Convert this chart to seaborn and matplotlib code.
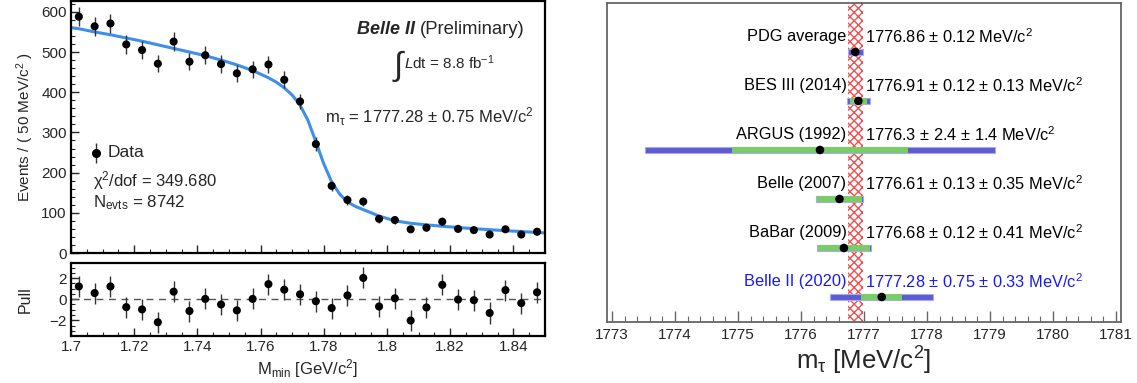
import numpy as np
import matplotlib
matplotlib.use("Agg")
import matplotlib.pyplot as plt
from matplotlib.ticker import MultipleLocator
import seaborn as sns

# ---- left: M_min fit ----
bin_centers = [1.7025, 1.7075, 1.7125, 1.7175, 1.7225, 1.7275, 1.7325, 1.7375, 1.7425, 1.7475,
               1.7525, 1.7575, 1.7625, 1.7675, 1.7725, 1.7775, 1.7825, 1.7875, 1.7925, 1.7975,
               1.8025, 1.8075, 1.8125, 1.8175, 1.8225, 1.8275, 1.8325, 1.8375, 1.8425, 1.8475]
counts = [588, 564, 571, 519, 505, 471, 526, 476, 492, 470,
          447, 457, 469, 431, 377, 271, 167, 132, 128, 85,
          82, 59, 63, 78, 60, 57, 46, 59, 46, 53]
pulls = [1.22, 0.59, 1.22, -0.75, -0.97, -2.19, 0.72, -1.12, 0.03, -0.50,
         -1.06, 0.03, 1.44, 0.91, 0.47, -0.19, -0.84, 0.37, 2.03, -0.69,
         0.09, -2.03, -0.78, 1.37, -0.03, -0.09, -1.31, 0.87, -0.37, 0.66]

fit_x = [1.7000, 1.7025, 1.7075, 1.7125, 1.7175, 1.7225, 1.7275, 1.7325, 1.7375, 1.7425,
         1.7475, 1.7525, 1.7575, 1.7625, 1.7650, 1.7675, 1.7700, 1.7725, 1.7750, 1.7775,
         1.7800, 1.7825, 1.7850, 1.7875, 1.7900, 1.7925, 1.7975, 1.8025, 1.8075, 1.8125,
         1.8175, 1.8225, 1.8275, 1.8325, 1.8375, 1.8425, 1.8475, 1.8500]
fit_y = [561, 558, 550, 543, 535, 527, 518, 509, 500, 491,
         480, 468, 454, 436, 425, 411, 393, 368, 330, 277,
         222, 177, 147, 127, 116, 108, 92, 80, 74, 70,
         66.5, 63.5, 60.5, 58, 55.5, 53.5, 51, 50]

# ---- right: tau mass comparison ----
experiments = ["PDG average", "BES III (2014)", "ARGUS (1992)", "Belle (2007)",
               "BaBar (2009)", "Belle II (2020)"]
mass = [1776.86, 1776.91, 1776.3, 1776.61, 1776.68, 1777.28]
stat_err = [0.12, 0.12, 2.4, 0.13, 0.12, 0.75]
syst_err = [0.0, 0.13, 1.4, 0.35, 0.41, 0.33]
value_labels = ["1776.86 ± 0.12 MeV/c$^2$",
                "1776.91 ± 0.12 ± 0.13 MeV/c$^2$",
                "1776.3 ± 2.4 ± 1.4 MeV/c$^2$",
                "1776.61 ± 0.13 ± 0.35 MeV/c$^2$",
                "1776.68 ± 0.12 ± 0.41 MeV/c$^2$",
                "1777.28 ± 0.75 ± 0.33 MeV/c$^2$"]
pdg_mass = 1776.86
pdg_err = 0.12

sns.set_theme(style="ticks")
plt.rcParams["font.family"] = ["Liberation Sans", "DejaVu Sans"]
plt.rcParams["mathtext.fontset"] = "custom"
plt.rcParams["mathtext.rm"] = "Liberation Sans"
plt.rcParams["mathtext.it"] = "Liberation Sans:italic"
plt.rcParams["mathtext.bf"] = "Liberation Sans:bold"

fig = plt.figure(figsize=(11.37, 3.83), dpi=100)
ax_main = fig.add_axes([0.0624, 0.3394, 0.4169, 0.658])
ax_pull = fig.add_axes([0.0624, 0.1227, 0.4169, 0.1906])
ax_r = fig.add_axes([0.5339, 0.1593, 0.4521, 0.833])

# main fit panel
fit_color = "#3d8fe8"
sns.lineplot(x=fit_x, y=fit_y, ax=ax_main, color=fit_color, linewidth=2.2, zorder=2)
ax_main.errorbar(bin_centers, counts, yerr=np.sqrt(counts), fmt="none",
                 ecolor="#333333", elinewidth=1.0, zorder=3)
sns.scatterplot(x=bin_centers, y=counts, ax=ax_main, color="black", s=34,
                edgecolor="none", zorder=4)
ax_main.set_xlim(1.7, 1.85)
ax_main.set_ylim(0, 627)
ax_main.set_xticklabels([])
ax_main.set_ylabel("Events / ( 50 MeV/c$^2$ )", fontsize=11)

ax_main.text(0.726, 0.885, "Belle II", transform=ax_main.transAxes, ha="right",
             va="center", fontsize=13, fontweight="bold", style="italic")
ax_main.text(0.736, 0.885, "(Preliminary)", transform=ax_main.transAxes, ha="left",
             va="center", fontsize=13.3)
ax_main.text(0.69, 0.742, "∫", transform=ax_main.transAxes, ha="center",
             va="center", fontsize=24, fontweight="light")
ax_main.text(0.703, 0.754, "$L$dt = 8.8 fb$^{-1}$", transform=ax_main.transAxes,
             ha="left", va="center", fontsize=11)
ax_main.text(0.536, 0.54, r"m$_{\mathrm{\tau}}$ = 1777.28 ± 0.75 MeV/c$^2$",
             transform=ax_main.transAxes, ha="left", va="center", fontsize=12)

# legend-like entries
ax_main.errorbar([0.053], [0.397], yerr=[0.04], fmt="o", color="black", ms=5.5,
                 ecolor="#333333", elinewidth=1.0, transform=ax_main.transAxes)
ax_main.text(0.078, 0.397, "Data", transform=ax_main.transAxes, ha="left",
             va="center", fontsize=12.5)
ax_main.text(0.047, 0.288, "χ$^2$/dof = 349.680", transform=ax_main.transAxes,
             ha="left", va="center", fontsize=12)
ax_main.text(0.047, 0.198, r"N$_{\mathrm{evts}}$ = 8742", transform=ax_main.transAxes,
             ha="left", va="center", fontsize=12.2)

# pull panel
ax_pull.axhline(0, color="#555555", linestyle=(0, (5, 4)), linewidth=1.0, zorder=1)
ax_pull.errorbar(bin_centers, pulls, yerr=1.0, fmt="none", ecolor="#333333",
                 elinewidth=1.0, zorder=3)
sns.scatterplot(x=bin_centers, y=pulls, ax=ax_pull, color="black", s=34,
                edgecolor="none", zorder=4)
ax_pull.set_xlim(1.7, 1.85)
ax_pull.set_ylim(-3.5, 3.45)
ax_pull.set_yticks([-2, 0, 2])
ax_pull.set_xticks([1.70, 1.72, 1.74, 1.76, 1.78, 1.80, 1.82, 1.84])
ax_pull.set_xticklabels(["1.7", "1.72", "1.74", "1.76", "1.78", "1.8", "1.82", "1.84"])
ax_pull.set_ylabel("Pull", fontsize=11.5, labelpad=12)
ax_pull.set_xlabel("M$_{\\mathrm{min}}$ [GeV/c$^2$]", fontsize=12, labelpad=2)

ax_main.xaxis.set_major_locator(MultipleLocator(0.02))
for ax in (ax_main, ax_pull):
    ax.xaxis.set_minor_locator(MultipleLocator(0.005))
    ax.tick_params(which="both", direction="in", labelsize=11, pad=3)
    ax.tick_params(which="major", length=6, width=1.0)
    ax.tick_params(which="minor", length=3, width=0.8)
    for s in ax.spines.values():
        s.set_linewidth(1.6)
        s.set_color("black")
ax_main.yaxis.set_minor_locator(MultipleLocator(20))
ax_pull.yaxis.set_minor_locator(MultipleLocator(0.5))

# right comparison panel
rows = np.arange(len(experiments))
total_err = np.sqrt(np.array(stat_err) ** 2 + np.array(syst_err) ** 2)
mass_arr = np.array(mass)
blue = "#5b5bd3"
green = "#7acd66"
ax_r.axvspan(pdg_mass - pdg_err, pdg_mass + pdg_err, facecolor="white",
             edgecolor="#f05050", hatch="xxxx", linewidth=0.0, zorder=1)
ax_r.barh(rows, 2 * total_err, left=mass_arr - total_err, height=0.13,
          color=blue, edgecolor="#a9a9ee", linewidth=0.8, zorder=2)
has_syst = np.array(syst_err) > 0
ax_r.barh(rows[has_syst], 2 * np.array(syst_err)[has_syst],
          left=mass_arr[has_syst] - np.array(syst_err)[has_syst], height=0.13,
          color=green, edgecolor="none", zorder=3)
sns.scatterplot(x=mass, y=rows, ax=ax_r, color="black", s=38, edgecolor="none",
                zorder=4)
for i, (name, val) in enumerate(zip(experiments, value_labels)):
    c = "#1a1aee" if name.startswith("Belle II") else "black"
    ax_r.text(1776.72, i - 0.31, name, ha="right", va="center", fontsize=11.8, color=c)
    ax_r.text(1777.02, i - 0.31, val, ha="left", va="center", fontsize=11.8, color=c)

ax_r.set_xlim(1772.92, 1781.08)
ax_r.set_ylim(5.51, -1.0)
ax_r.set_yticks([])
ax_r.set_xticks(range(1773, 1782))
ax_r.xaxis.set_minor_locator(MultipleLocator(0.2))
ax_r.tick_params(which="both", direction="in", labelsize=11, color="#666666", pad=4)
ax_r.tick_params(which="major", length=8, width=1.0)
ax_r.tick_params(which="minor", length=4, width=0.8)
for s in ax_r.spines.values():
    s.set_linewidth(1.3)
    s.set_color("#666666")
ax_r.set_xlabel(r"m$_{\mathrm{\tau}}$ [MeV/c$^2$]", fontsize=18.5, labelpad=2)

fig.savefig("out.png", dpi=100)
